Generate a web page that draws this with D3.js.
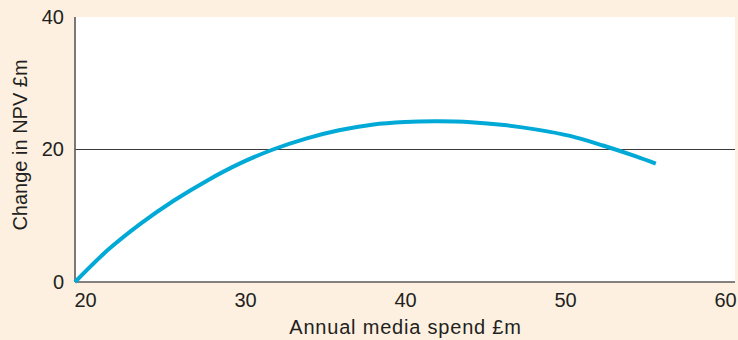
<!DOCTYPE html>
<html>
<head>
<meta charset="utf-8">
<script src="https://cdn.jsdelivr.net/npm/d3@7/dist/d3.min.js"></script>
<style>
  html, body { margin: 0; padding: 0; background: #fdf0e1; }
  svg { display: block; }
  text { font-family: "Liberation Sans", Arial, Helvetica, sans-serif; fill: #231f20; }
</style>
</head>
<body>
<svg id="chart" width="738" height="340"></svg>
<script>
// Annual media spend (£m) and the resulting change in NPV (£m)
const spend = [20, 22, 24, 26, 28, 30, 32, 34, 36, 38, 40, 42, 44, 46, 48, 50, 52, 54, 55.2];
const npvChange = [0, 4.85, 8.85, 12.3, 15.3, 17.9, 20.0, 21.65, 22.9, 23.75, 24.15, 24.25, 24.12, 23.7, 23.0, 22.05, 20.6, 18.95, 17.85];
const xTicks = [20, 30, 40, 50, 60];
const yTicks = [0, 20, 40];
const xTitle = "Annual media spend £m";
const yTitle = "Change in NPV £m";

const svg = d3.select("#chart");
const plot = { left: 75, right: 735, top: 17, bottom: 282 };

const x = d3.scaleLinear().domain([20, 60]).range([plot.left, plot.right]);
const y = d3.scaleLinear().domain([0, 40]).range([plot.bottom, plot.top]);
// tick labels sit slightly inside the frame at either end
const xLabel = d3.scaleLinear().domain([20, 60]).range([85, 725]);

// white plotting panel
svg.append("rect")
  .attr("x", plot.left).attr("y", plot.top)
  .attr("width", plot.right - plot.left).attr("height", plot.bottom - plot.top)
  .attr("fill", "#ffffff");

// horizontal reference line at 20
svg.append("g").selectAll("line")
  .data(yTicks.filter(d => d > 0 && d < 40))
  .join("line")
  .attr("x1", plot.left).attr("x2", plot.right)
  .attr("y1", d => y(d)).attr("y2", d => y(d))
  .attr("stroke", "#3a3a3a").attr("stroke-width", 1.2);

// axes
const xAxis = svg.append("g")
  .attr("transform", `translate(0,${plot.bottom})`)
  .call(d3.axisBottom(xLabel).tickValues(xTicks).tickSize(0).tickPadding(11).tickFormat(d3.format("d")));
xAxis.select(".domain").remove();
xAxis.selectAll("text").attr("font-size", 20).attr("font-family", null);

const yAxis = svg.append("g")
  .attr("transform", `translate(64,0)`)
  .call(d3.axisLeft(y).tickValues(yTicks).tickSize(0).tickPadding(0).tickFormat(d3.format("d")));
yAxis.select(".domain").remove();
yAxis.selectAll("text").attr("font-size", 20).attr("font-family", null);
svg.selectAll(".tick text").attr("fill", "#231f20");

// frame lines: left and bottom
svg.append("line")
  .attr("x1", plot.left).attr("x2", plot.left)
  .attr("y1", plot.top).attr("y2", plot.bottom)
  .attr("stroke", "#5a5858").attr("stroke-width", 1.6);
svg.append("line")
  .attr("x1", plot.left).attr("x2", plot.right)
  .attr("y1", plot.bottom).attr("y2", plot.bottom)
  .attr("stroke", "#5a5858").attr("stroke-width", 1.6);

// response curve
const line = d3.line()
  .x((d, i) => x(spend[i]))
  .y(d => y(d))
  .curve(d3.curveCatmullRom.alpha(0.5));
svg.append("path")
  .datum(npvChange)
  .attr("d", line)
  .attr("fill", "none")
  .attr("stroke", "#00a9d6")
  .attr("stroke-width", 4);

// axis titles
svg.append("text")
  .attr("x", 405.5).attr("y", 334)
  .attr("text-anchor", "middle")
  .attr("font-size", 20)
  .attr("letter-spacing", 0.8)
  .text(xTitle);
svg.append("text")
  .attr("transform", "translate(27,145) rotate(-90)")
  .attr("text-anchor", "middle")
  .attr("font-size", 20)
  .text(yTitle);
</script>
</body>
</html>
